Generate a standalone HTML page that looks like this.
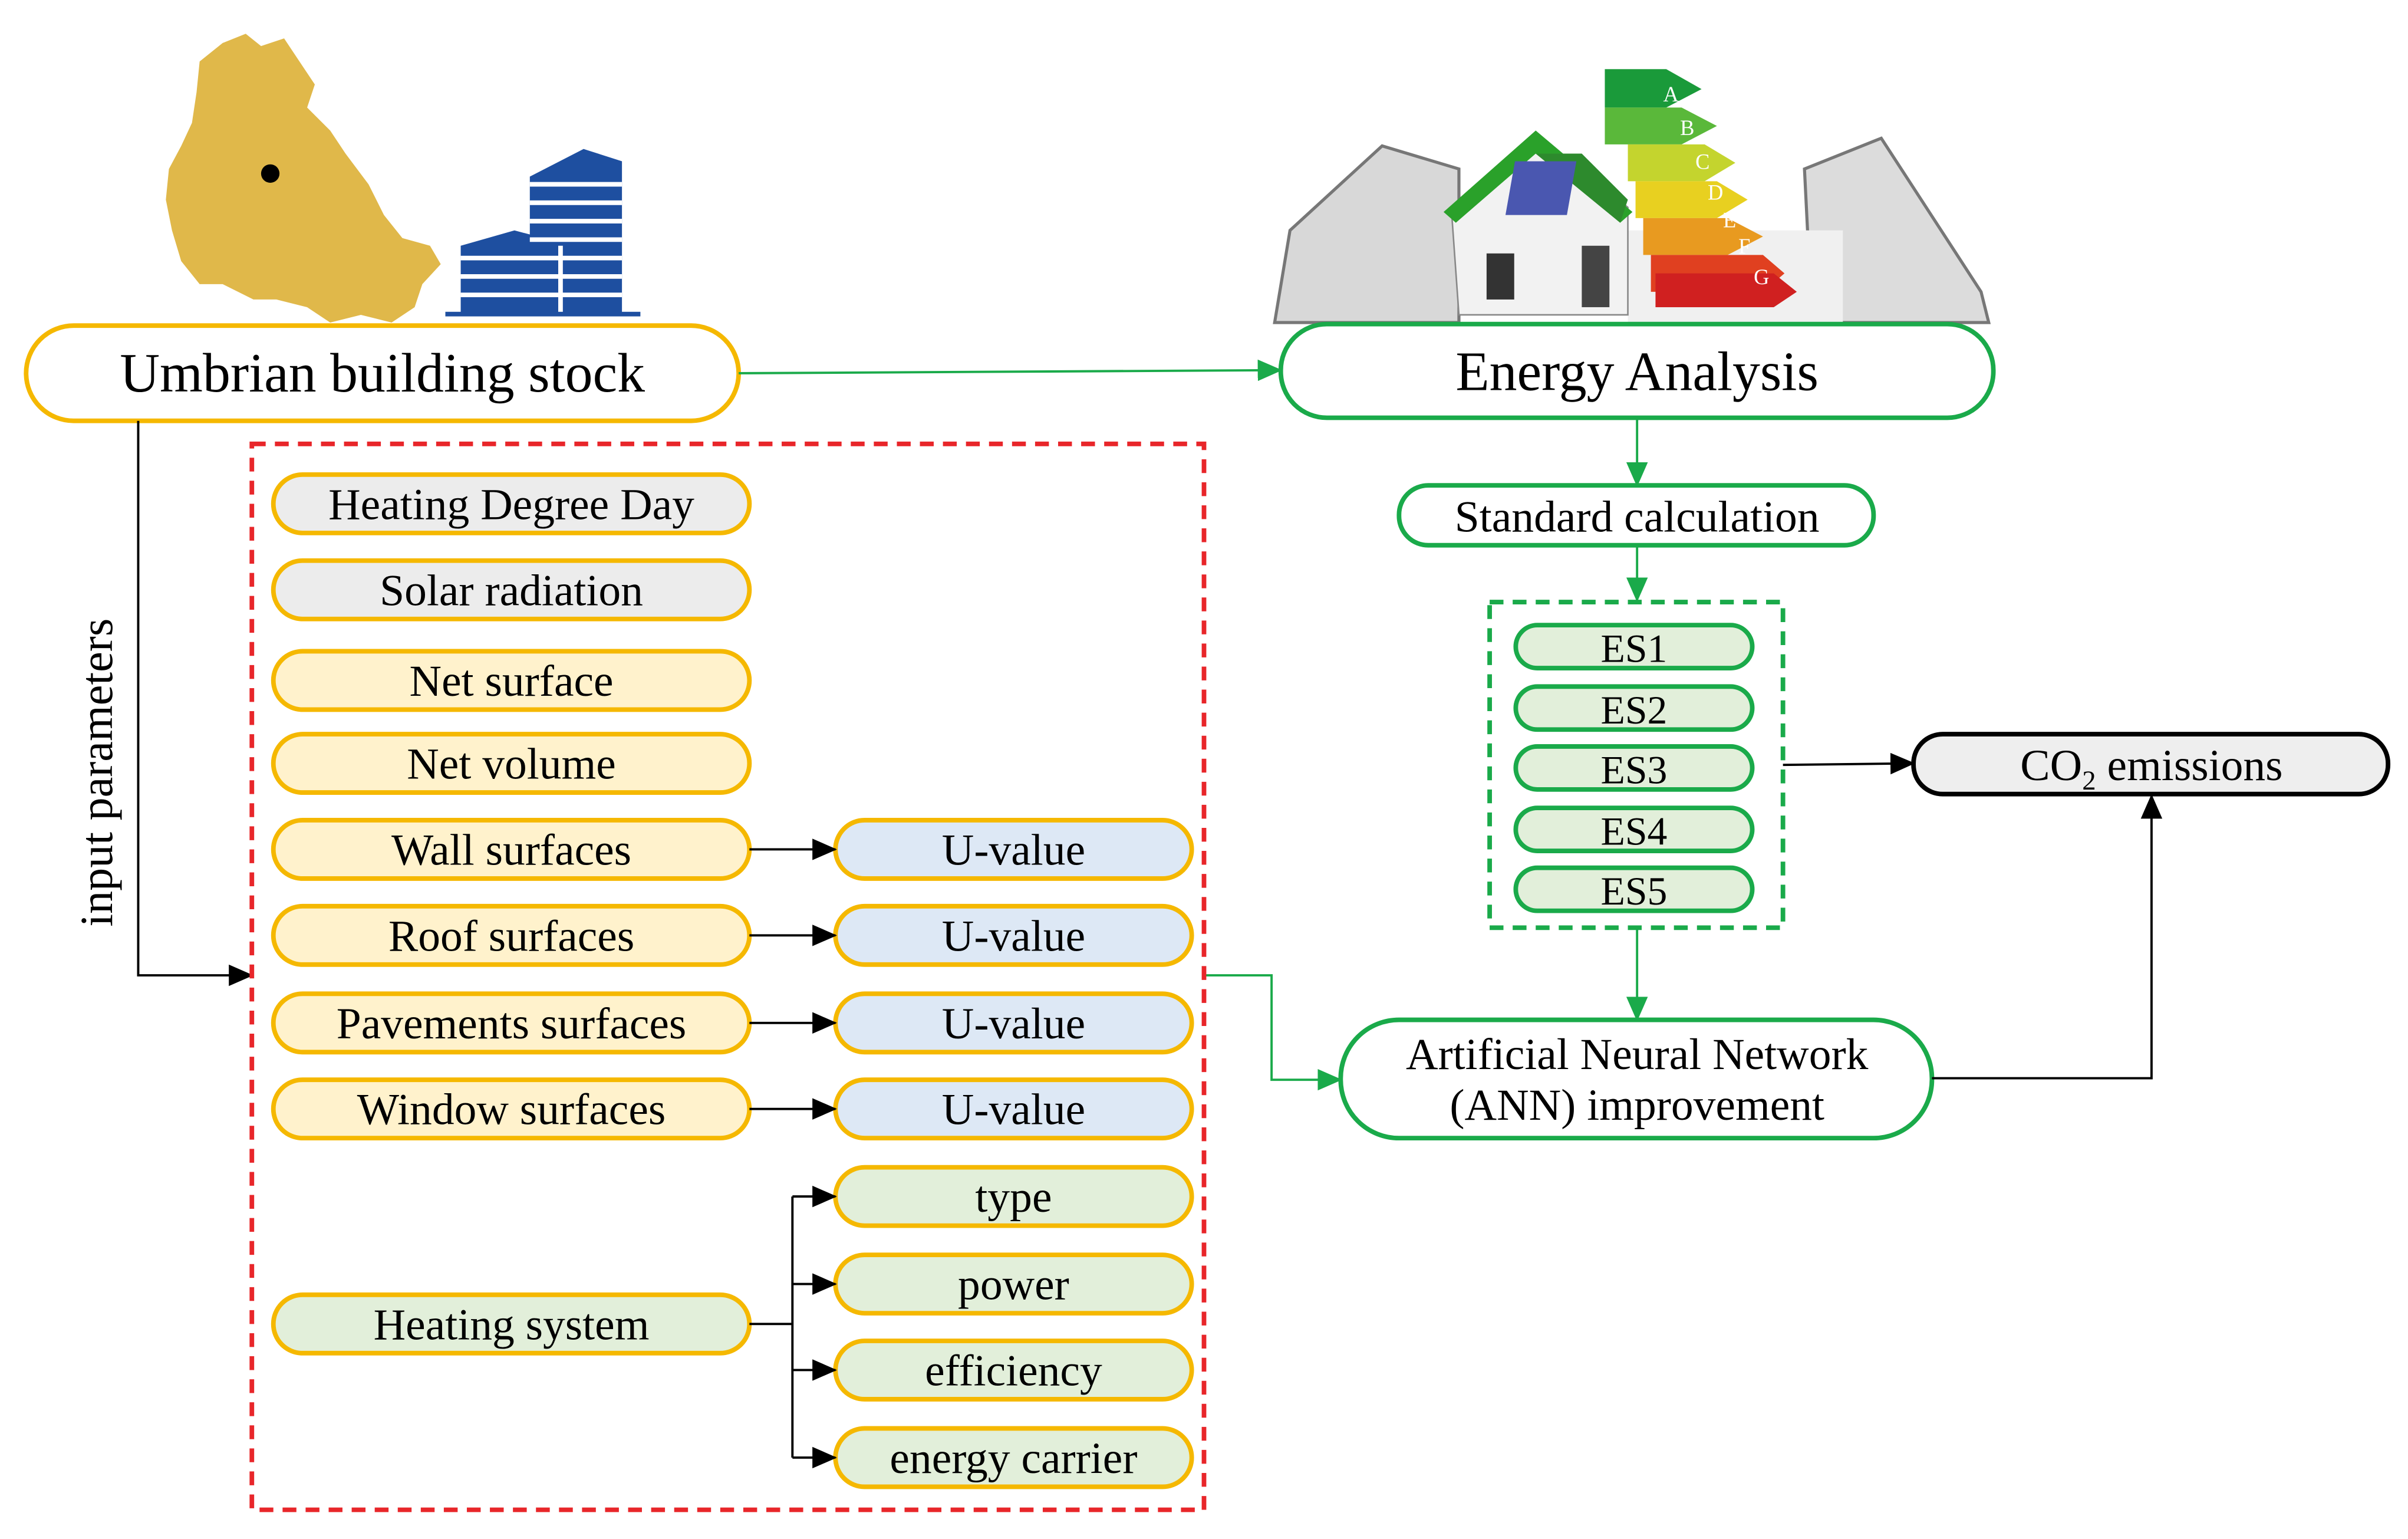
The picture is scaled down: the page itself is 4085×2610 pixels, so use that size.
<!DOCTYPE html>
<html><head><meta charset="utf-8"><style>
html,body{margin:0;padding:0;background:#fff;}
svg{display:block;}
text{font-family:"Liberation Serif",serif;fill:#000;}
</style></head><body>
<svg width="4085" height="2610" viewBox="0 0 1568 1002" preserveAspectRatio="none" xmlns="http://www.w3.org/2000/svg">
<defs>
<marker id="abl" markerWidth="16" markerHeight="14" refX="15" refY="7" orient="auto" markerUnits="userSpaceOnUse"><path d="M0,0 L16,7 L0,14 Z" fill="#000"/></marker>
<marker id="agl" markerWidth="16" markerHeight="14" refX="15" refY="7" orient="auto" markerUnits="userSpaceOnUse"><path d="M0,0 L16,7 L0,14 Z" fill="#1aaa4a"/></marker>
</defs>

<!-- Umbria map -->
<path d="M130,40 L145,28 L160,22 L170,30 L185,25 L195,40 L205,55 L200,70 L215,85 L225,100 L240,120 L250,140 L262,155 L280,160 L287,172 L275,185 L270,200 L255,210 L235,205 L215,210 L200,200 L180,195 L165,195 L145,185 L130,185 L118,170 L112,150 L108,130 L110,110 L118,95 L125,80 L128,60 Z" fill="#e0b84a"/>
<circle cx="176" cy="113" r="6" fill="#000"/>
<!-- building -->
<g fill="#1e4fa0">
<path d="M345,115 L380,97 L405,105 L405,205 L345,205 Z"/>
<path d="M300,160 L335,150 L365,158 L365,205 L300,205 Z"/>
</g>
<g stroke="#fff" stroke-width="3">
<line x1="300" y1="168" x2="405" y2="168"/><line x1="300" y1="180" x2="405" y2="180"/><line x1="300" y1="192" x2="405" y2="192"/>
<line x1="345" y1="120" x2="405" y2="120"/><line x1="345" y1="132" x2="405" y2="132"/><line x1="345" y1="144" x2="405" y2="144"/><line x1="345" y1="156" x2="405" y2="156"/>
<line x1="365" y1="160" x2="365" y2="205"/>
</g>
<rect x="290" y="203" width="127" height="3" fill="#1e4fa0"/>

<!-- energy image -->
<g>
<path d="M840,150 L900,95 L950,110 L950,210 L830,210 Z" fill="#d8d8d8" stroke="#777" stroke-width="2"/>
<path d="M1175,110 L1225,90 L1290,190 L1295,210 L1180,210 Z" fill="#dcdcdc" stroke="#777" stroke-width="2"/>
<rect x="1060" y="150" width="140" height="60" fill="#f0f0f0"/>
<path d="M945,135 L1000,88 L1060,135 L1060,205 L950,205 Z" fill="#f2f2f2" stroke="#888"/>
<path d="M940,138 L1000,85 L1063,138 L1055,145 L1000,100 L948,145 Z" fill="#2aa12a"/>
<path d="M1000,100 L1055,145 L1060,130 L1030,100 Z" fill="#2d8a2d"/>
<rect x="1005" y="105" width="40" height="35" fill="#4a57b0" transform="skewX(-10)"/>
<rect x="968" y="165" width="18" height="30" fill="#333"/>
<rect x="1030" y="160" width="18" height="40" fill="#444"/>
<polygon points="1045,45 1085,45 1108,58 1085,70 1045,70" fill="#1a9a3a"/>
<polygon points="1045,70 1095,70 1118,82 1095,94 1045,94" fill="#5ab83a"/>
<polygon points="1060,94 1110,94 1130,106 1110,118 1060,118" fill="#c4d42e"/>
<polygon points="1065,118 1118,118 1138,130 1118,142 1065,142" fill="#e8d020"/>
<polygon points="1070,142 1125,142 1148,154 1125,166 1070,166" fill="#e89a20"/>
<polygon points="1075,166 1148,166 1162,178 1148,190 1075,190" fill="#e04020"/>
<polygon points="1078,178 1155,178 1170,190 1155,200 1078,200" fill="#d02020"/>
<g font-size="14"><text x="1083" y="66" style="fill:#fff">A</text><text x="1094" y="88" style="fill:#fff">B</text><text x="1104" y="110" style="fill:#fff">C</text><text x="1112" y="130" style="fill:#fff">D</text><text x="1122" y="148" style="fill:#fff">E</text><text x="1132" y="165" style="fill:#fff">F</text><text x="1142" y="185" style="fill:#fff">G</text></g>
</g>

<!-- top boxes -->
<rect x="17" y="212" width="464" height="62" rx="31" fill="#fff" stroke="#f5b800" stroke-width="3"/>
<text x="249" y="255" font-size="36" text-anchor="middle">Umbrian building stock</text>
<rect x="834" y="211" width="464" height="61" rx="30" fill="#fff" stroke="#1aaa4a" stroke-width="3"/>
<text x="1066" y="254" font-size="36" text-anchor="middle">Energy Analysis</text>
<line x1="481" y1="243" x2="834" y2="241" stroke="#1aaa4a" stroke-width="1.5" marker-end="url(#agl)"/>

<rect x="911" y="316" width="309" height="39" rx="19" fill="#fff" stroke="#1aaa4a" stroke-width="3"/>
<text x="1066" y="346" font-size="29" text-anchor="middle">Standard calculation</text>
<line x1="1066" y1="273" x2="1066" y2="316" stroke="#1aaa4a" stroke-width="1.5" marker-end="url(#agl)"/>
<line x1="1066" y1="355" x2="1066" y2="391" stroke="#1aaa4a" stroke-width="1.5" marker-end="url(#agl)"/>

<rect x="970" y="392" width="191" height="212" fill="none" stroke="#1aaa4a" stroke-width="3" stroke-dasharray="9,6"/>
<g font-size="26" text-anchor="middle">
<rect x="987" y="407" width="154" height="28" rx="14" fill="#e2efda" stroke="#1aaa4a" stroke-width="3"/><text x="1064" y="431">ES1</text>
<rect x="987" y="447" width="154" height="28" rx="14" fill="#e2efda" stroke="#1aaa4a" stroke-width="3"/><text x="1064" y="471">ES2</text>
<rect x="987" y="486" width="154" height="28" rx="14" fill="#e2efda" stroke="#1aaa4a" stroke-width="3"/><text x="1064" y="510">ES3</text>
<rect x="987" y="526" width="154" height="28" rx="14" fill="#e2efda" stroke="#1aaa4a" stroke-width="3"/><text x="1064" y="550">ES4</text>
<rect x="987" y="565" width="154" height="28" rx="14" fill="#e2efda" stroke="#1aaa4a" stroke-width="3"/><text x="1064" y="589">ES5</text>
</g>

<rect x="1246" y="478" width="309" height="39" rx="19" fill="#eeeeee" stroke="#000" stroke-width="3"/>
<text x="1401" y="508" font-size="29" text-anchor="middle">CO<tspan font-size="18" dy="6">2</tspan><tspan dy="-6"> emissions</tspan></text>
<line x1="1161" y1="498" x2="1246" y2="497" stroke="#000" stroke-width="1.5" marker-end="url(#abl)"/>

<line x1="1066" y1="604" x2="1066" y2="664" stroke="#1aaa4a" stroke-width="1.5" marker-end="url(#agl)"/>
<rect x="873" y="664" width="385" height="77" rx="38" fill="#fff" stroke="#1aaa4a" stroke-width="3"/>
<text x="1066" y="696" font-size="29" text-anchor="middle">Artificial Neural Network</text>
<text x="1066" y="729" font-size="29" text-anchor="middle">(ANN) improvement</text>
<polyline points="1258,702 1401,702 1401,518" fill="none" stroke="#000" stroke-width="1.5" marker-end="url(#abl)"/>
<polyline points="784,635 828,635 828,703 873,703" fill="none" stroke="#1aaa4a" stroke-width="1.5" marker-end="url(#agl)"/>

<!-- left -->
<polyline points="90,274 90,635 164,635" fill="none" stroke="#000" stroke-width="1.5" marker-end="url(#abl)"/>
<text transform="translate(73,503) rotate(-90)" font-size="30" text-anchor="middle">input parameters</text>

<rect x="164" y="289" width="620" height="694" fill="none" stroke="#e8262a" stroke-width="3" stroke-dasharray="9,6"/>

<g font-size="29" text-anchor="middle" stroke-width="3">
<rect x="178" y="309" width="310" height="38" rx="19" fill="#ececec" stroke="#f5b800"/><text x="333" y="338">Heating Degree Day</text>
<rect x="178" y="365" width="310" height="38" rx="19" fill="#ececec" stroke="#f5b800"/><text x="333" y="394">Solar radiation</text>
<rect x="178" y="424" width="310" height="38" rx="19" fill="#fff2cc" stroke="#f5b800"/><text x="333" y="453">Net surface</text>
<rect x="178" y="478" width="310" height="38" rx="19" fill="#fff2cc" stroke="#f5b800"/><text x="333" y="507">Net volume</text>
<rect x="178" y="534" width="310" height="38" rx="19" fill="#fff2cc" stroke="#f5b800"/><text x="333" y="563">Wall surfaces</text>
<rect x="178" y="590" width="310" height="38" rx="19" fill="#fff2cc" stroke="#f5b800"/><text x="333" y="619">Roof surfaces</text>
<rect x="178" y="647" width="310" height="38" rx="19" fill="#fff2cc" stroke="#f5b800"/><text x="333" y="676">Pavements surfaces</text>
<rect x="178" y="703" width="310" height="38" rx="19" fill="#fff2cc" stroke="#f5b800"/><text x="333" y="732">Window surfaces</text>
<rect x="178" y="843" width="310" height="38" rx="19" fill="#e2efda" stroke="#f5b800"/><text x="333" y="872">Heating system</text>

<rect x="544" y="534" width="232" height="38" rx="19" fill="#dde8f5" stroke="#f5b800"/><text x="660" y="563">U-value</text>
<rect x="544" y="590" width="232" height="38" rx="19" fill="#dde8f5" stroke="#f5b800"/><text x="660" y="619">U-value</text>
<rect x="544" y="647" width="232" height="38" rx="19" fill="#dde8f5" stroke="#f5b800"/><text x="660" y="676">U-value</text>
<rect x="544" y="703" width="232" height="38" rx="19" fill="#dde8f5" stroke="#f5b800"/><text x="660" y="732">U-value</text>
<rect x="544" y="760" width="232" height="38" rx="19" fill="#e2efda" stroke="#f5b800"/><text x="660" y="789">type</text>
<rect x="544" y="817" width="232" height="38" rx="19" fill="#e2efda" stroke="#f5b800"/><text x="660" y="846">power</text>
<rect x="544" y="873" width="232" height="38" rx="19" fill="#e2efda" stroke="#f5b800"/><text x="660" y="902">efficiency</text>
<rect x="544" y="930" width="232" height="38" rx="19" fill="#e2efda" stroke="#f5b800"/><text x="660" y="959">energy carrier</text>
</g>

<g stroke="#000" stroke-width="1.5" fill="none">
<line x1="488" y1="553" x2="544" y2="553" marker-end="url(#abl)"/>
<line x1="488" y1="609" x2="544" y2="609" marker-end="url(#abl)"/>
<line x1="488" y1="666" x2="544" y2="666" marker-end="url(#abl)"/>
<line x1="488" y1="722" x2="544" y2="722" marker-end="url(#abl)"/>
<line x1="488" y1="862" x2="516" y2="862"/>
<line x1="516" y1="779" x2="516" y2="949"/>
<line x1="516" y1="779" x2="544" y2="779" marker-end="url(#abl)"/>
<line x1="516" y1="836" x2="544" y2="836" marker-end="url(#abl)"/>
<line x1="516" y1="892" x2="544" y2="892" marker-end="url(#abl)"/>
<line x1="516" y1="949" x2="544" y2="949" marker-end="url(#abl)"/>
</g>
</svg>
</body></html>
